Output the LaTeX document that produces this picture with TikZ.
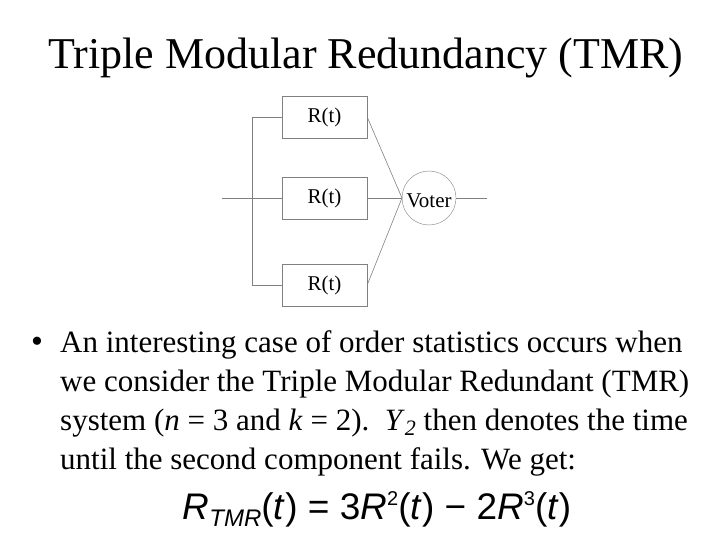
\documentclass[tikz,border=0pt]{standalone}
\usepackage{fontspec}
\setmainfont{Liberation Serif}
\newfontfamily\eqfont{Liberation Sans}
\begin{document}
\begin{tikzpicture}[x=1pt,y=-1pt,
  rbox/.style={draw=gray,minimum width=85pt,minimum height=42pt,inner sep=0pt,font=\fontsize{21}{22}\selectfont},
  wire/.style={draw=gray,line width=0.6pt}]
\useasboundingbox (0,0) rectangle (720,540);
\node[font=\fontsize{44}{48}\selectfont] (title) at (366,58) {Triple Modular Redundancy (TMR)};
\node[rbox] (r1) at (324.5,117) {R(t)};
\node[rbox] (r2) at (324.5,198) {R(t)};
\node[rbox] (r3) at (324.5,285) {R(t)};
\node[draw=gray,circle,minimum size=54pt,inner sep=0pt] (v) at (429,198) {};
\node[font=\fontsize{21}{22}\selectfont] (vt) at (429,201) {Voter};
\coordinate (in) at (222,198);
\coordinate (out) at (487,198);
\coordinate (vin) at (402,198);
\draw[wire] (in) -- (r2.west);
\draw[wire] (r1.west) -- ++(-30,0) |- (r3.west);
\draw[wire] (r1.east) -- (vin);
\draw[wire] (r2.east) -- (vin);
\draw[wire] (r3.east) -- (vin);
\draw[wire] (v.east) -- (out);
\node[anchor=north west,align=left,inner sep=0pt,font=\fontsize{31}{39}\selectfont] (txt) at (31,330)
 {\makebox[29pt][l]{\fontsize{34}{34}\selectfont•}An interesting case of order statistics occurs when\\
 \hspace*{29pt}we consider the Triple Modular Redundant (TMR)\\
 \hspace*{29pt}system (\textit{n} = 3 and \textit{k} = 2).\ \ \textit{Y}\raisebox{-5pt}{\fontsize{22}{22}\selectfont\textit{2}} then denotes the time\\
 \hspace*{29pt}until the second component fails. We get:};
\node[font=\eqfont\fontsize{37}{40}\selectfont] (eq) at (377,509)
 {\textit{R}\raisebox{-7pt}{\fontsize{24}{24}\selectfont\textit{TMR}}(\textit{t}) = 3\textit{R}\raisebox{14pt}{\fontsize{20}{20}\selectfont 2}(\textit{t}) − 2\textit{R}\raisebox{14pt}{\fontsize{20}{20}\selectfont 3}(\textit{t})};
\end{tikzpicture}
\end{document}
